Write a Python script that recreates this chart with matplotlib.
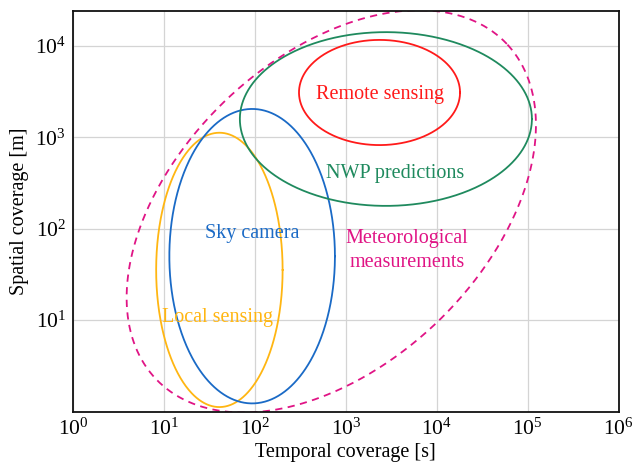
import numpy as np
import matplotlib
matplotlib.use("Agg")
import matplotlib.pyplot as plt
from matplotlib.ticker import NullLocator

plt.rcParams['font.family'] = ['Liberation Serif', 'DejaVu Serif']
plt.rcParams['mathtext.fontset'] = 'stix'

# Coverage regions as ellipses in log10 space:
# centre (log10 s, log10 m), semi-axes (decades), rotation (deg)
names = ["Local sensing", "Sky camera", "NWP predictions", "Remote sensing",
         "Meteorological\nmeasurements"]
centre_x = [1.61, 1.97, 3.44, 3.37, 2.84]
centre_y = [1.55, 1.70, 3.20, 3.49, 2.19]
semi_a = [0.695, 0.91, 1.605, 0.885, 2.66]
semi_b = [1.50, 1.61, 0.95, 0.575, 1.68]
angle = [0, 0, 0, 0, 43.5]
colors = ["#ffb612", "#1a6ac6", "#1f8a5e", "#ff1a1a", "#e01485"]
styles = ["-", "-", "-", "-", "--"]

# Label anchor points (data units)
label_x = [39, 93, 3450, 2350, 4700]
label_y = [10.7, 89, 400, 2950, 58]

xticks = [1, 10, 100, 1e3, 1e4, 1e5, 1e6]
yticks = [10, 100, 1e3, 1e4]

fig, ax = plt.subplots(figsize=(6.34, 4.62), dpi=100)
fig.subplots_adjust(left=0.115, right=0.976, top=0.976, bottom=0.109)

t = np.linspace(0, 2 * np.pi, 600)
for cx, cy, a, b, ang, c, ls in zip(centre_x, centre_y, semi_a, semi_b,
                                     angle, colors, styles):
    th = np.deg2rad(ang)
    u = a * np.cos(t)
    v = b * np.sin(t)
    lx = cx + u * np.cos(th) - v * np.sin(th)
    ly = cy + u * np.sin(th) + v * np.cos(th)
    if ls == "--":
        ax.plot(10 ** lx, 10 ** ly, color=c, lw=1.3, dashes=(4, 3))
    else:
        ax.plot(10 ** lx, 10 ** ly, color=c, lw=1.3)

for name, x, y, c in zip(names, label_x, label_y, colors):
    ax.text(x, y, name, color=c, fontsize=14.5, ha="center", va="center",
            linespacing=1.35)

ax.set_xscale("log")
ax.set_yscale("log")
ax.set_xlim(1, 1e6)
ax.set_ylim(1, 2.4e4)
ax.set_xticks(xticks)
ax.set_yticks(yticks)
ax.xaxis.set_minor_locator(NullLocator())
ax.yaxis.set_minor_locator(NullLocator())
ax.tick_params(axis="both", which="both", length=0, labelsize=15.5, pad=5)
ax.grid(True, color="#d4d4d4", lw=0.9)
ax.set_axisbelow(True)
for s in ax.spines.values():
    s.set_linewidth(1.3)
    s.set_color("#111111")

ax.set_xlabel("Temporal coverage [s]", fontsize=14.5, labelpad=2)
ax.set_ylabel("Spatial coverage [m]", fontsize=14.5, labelpad=4)

fig.savefig("out.png", dpi=100)
